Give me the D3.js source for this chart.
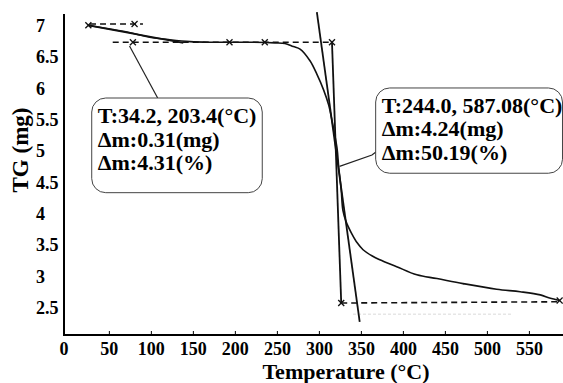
<!DOCTYPE html>
<html>
<head>
<meta charset="utf-8">
<script src="https://cdn.jsdelivr.net/npm/d3@7"></script>
<style>
  body { margin: 0; background: #fff; }
  svg { display: block; font-family: "Liberation Serif", "Times New Roman", serif; }
  .tick-label { font-size: 18px; font-weight: bold; }
  .title { font-size: 22px; font-weight: bold; }
  .y-title { font-size: 23px; font-weight: bold; }
  .note { font-size: 22px; font-weight: bold; }
</style>
</head>
<body>
<svg id="chart"></svg>
<script>
(function() {
  'use strict';
  const W = 563, H = 383;

  // TG curve (temperature in C, mass in mg)
  const temps  = [25, 51, 75, 98, 122, 146, 170, 217, 247, 259, 269, 277, 289, 297, 305, 311, 316, 321,
                  323, 326, 328, 332, 338, 345, 352, 363, 372, 392, 416, 440, 471, 511, 539, 563, 574, 586];
  const masses = [7.01, 6.95, 6.89, 6.82, 6.78, 6.75, 6.74, 6.74, 6.73, 6.72, 6.67, 6.63, 6.44, 6.23, 5.98,
                  5.74, 5.42, 5.05, 4.75, 4.38, 4.06, 3.87, 3.70, 3.54, 3.43, 3.33, 3.27, 3.16, 3.03, 2.97,
                  2.89, 2.80, 2.76, 2.71, 2.66, 2.62];

  const xTicks = [0, 50, 100, 150, 200, 250, 300, 350, 400, 450, 500, 550];
  const yTicks = [7, 6.5, 6, 5.5, 5, 4.5, 4, 3.5, 3, 2.5];

  // construction lines [T1, m1, T2, m2]
  const solidGuides = [
    [25, 7.01, 138, 6.73],     // first step tangent
    [297, 7.22, 348, 2.28],    // main step tangent
    [315, 6.74, 326, 2.58]     // step height
  ];
  const dashedGuides = [
    [27, 7.03, 90, 7.03],
    [54, 6.74, 315, 6.74],
    [326, 2.58, 586, 2.60]
  ];
  const markers = [[25, 7.01], [80, 7.03], [78, 6.74], [193, 6.74], [235, 6.74], [315, 6.74], [326, 2.58], [586, 2.62]];

  // annotation boxes: T range, mass range, connector, text lines
  const notes = [
    { t: [29, 232], m: [5.85, 4.34], link: [[74, 6.68], [107.5, 5.85]],
      lines: ['T:34.2, 203.4(\u00B0C)', '\u0394m:0.31(mg)', '\u0394m:4.31(%)'] },
    { t: [367, 589.4], m: [6.01, 4.65], link: [[324, 4.76], [362.6, 4.94], [367.3, 4.99]],
      lines: ['T:244.0, 587.08(\u00B0C)', '\u0394m:4.24(mg)', '\u0394m:50.19(%)'] }
  ];

  const x = d3.scaleLinear().domain([-4, 590]).range([64, 563]);
  const y = d3.scaleLinear().domain([2.07, 7.19]).range([335, 14]);

  const svg = d3.select('#chart').attr('width', W).attr('height', H);

  // faint scan residue under the lower baseline
  svg.append('line')
    .attr('x1', x(340)).attr('x2', x(530))
    .attr('y1', y(2.40)).attr('y2', y(2.40))
    .attr('stroke', '#e6e6e6').attr('stroke-width', 1.5)
    .attr('stroke-dasharray', '3,2');

  // axes
  svg.append('line')
    .attr('x1', 64).attr('x2', 64).attr('y1', 14).attr('y2', 335)
    .attr('stroke', '#000').attr('stroke-width', 2);
  svg.append('line')
    .attr('x1', 63).attr('x2', W).attr('y1', 335).attr('y2', 335)
    .attr('stroke', '#000').attr('stroke-width', 2);

  svg.selectAll('.x-tick')
    .data(xTicks.slice(1))
    .enter()
    .append('line')
      .attr('class', 'x-tick')
      .attr('x1', d => x(d)).attr('x2', d => x(d))
      .attr('y1', 335).attr('y2', 331)
      .attr('stroke', '#000').attr('stroke-width', 1);

  svg.selectAll('.x-label')
    .data(xTicks)
    .enter()
    .append('text')
      .attr('class', 'tick-label x-label')
      .attr('text-anchor', 'middle')
      .attr('x', d => d === 0 ? 64 : x(d))
      .attr('y', 355)
      .text(d => d);

  svg.selectAll('.y-label')
    .data(yTicks)
    .enter()
    .append('text')
      .attr('class', 'tick-label y-label')
      .attr('text-anchor', 'start')
      .attr('x', 36)
      .attr('y', d => y(d) + 6)
      .text(d => d);

  svg.append('text')
    .attr('class', 'title')
    .attr('text-anchor', 'middle')
    .attr('x', 346).attr('y', 379)
    .text('Temperature (\u00B0C)');

  svg.append('text')
    .attr('class', 'y-title')
    .attr('text-anchor', 'middle')
    .attr('transform', 'translate(28,150) rotate(-90)')
    .text('TG (mg)');

  // guides
  svg.selectAll('.guide')
    .data(solidGuides)
    .enter()
    .append('line')
      .attr('class', 'guide')
      .attr('x1', d => x(d[0])).attr('y1', d => y(d[1]))
      .attr('x2', d => x(d[2])).attr('y2', d => y(d[3]))
      .attr('stroke', '#111').attr('stroke-width', 1.8);

  svg.selectAll('.dash')
    .data(dashedGuides)
    .enter()
    .append('line')
      .attr('class', 'dash')
      .attr('x1', d => x(d[0])).attr('y1', d => y(d[1]))
      .attr('x2', d => x(d[2])).attr('y2', d => y(d[3]))
      .attr('stroke', '#111').attr('stroke-width', 1.6)
      .attr('stroke-dasharray', '6,4');

  // TG curve
  const line = d3.line()
    .x(d => x(d[0]))
    .y(d => y(d[1]))
    .curve(d3.curveCatmullRom.alpha(0.5));

  svg.append('path')
    .datum(temps.map((t, i) => [t, masses[i]]))
    .attr('d', line)
    .attr('fill', 'none')
    .attr('stroke', '#111')
    .attr('stroke-width', 1.6);

  // small cross markers
  const cross = svg.selectAll('.mark')
    .data(markers)
    .enter()
    .append('g')
      .attr('class', 'mark')
      .attr('transform', d => `translate(${x(d[0])},${y(d[1])})`);
  cross.append('line').attr('x1', -3).attr('x2', 3).attr('y1', -3).attr('y2', 3)
    .attr('stroke', '#111').attr('stroke-width', 1.3);
  cross.append('line').attr('x1', -3).attr('x2', 3).attr('y1', 3).attr('y2', -3)
    .attr('stroke', '#111').attr('stroke-width', 1.3);

  // annotation boxes
  const note = svg.selectAll('.note-box')
    .data(notes)
    .enter()
    .append('g')
      .attr('class', 'note-box');

  note.append('path')
    .attr('d', d => d3.line().x(p => x(p[0])).y(p => y(p[1]))(d.link))
    .attr('fill', 'none')
    .attr('stroke', '#222')
    .attr('stroke-width', 1.2);

  note.append('rect')
    .attr('x', d => x(d.t[0]))
    .attr('y', d => y(d.m[0]))
    .attr('width', d => x(d.t[1]) - x(d.t[0]))
    .attr('height', d => y(d.m[1]) - y(d.m[0]))
    .attr('rx', 14).attr('ry', 14)
    .attr('fill', '#fff')
    .attr('stroke', '#444')
    .attr('stroke-width', 1);

  note.each(function(d) {
    d3.select(this).selectAll('text')
      .data(d.lines)
      .enter()
      .append('text')
        .attr('class', 'note')
        .attr('x', x(d.t[0]) + 6)
        .attr('y', (s, i) => y(d.m[0]) + 25 + i * 23.5)
        .text(s => s);
  });
})();
</script>
</body>
</html>
